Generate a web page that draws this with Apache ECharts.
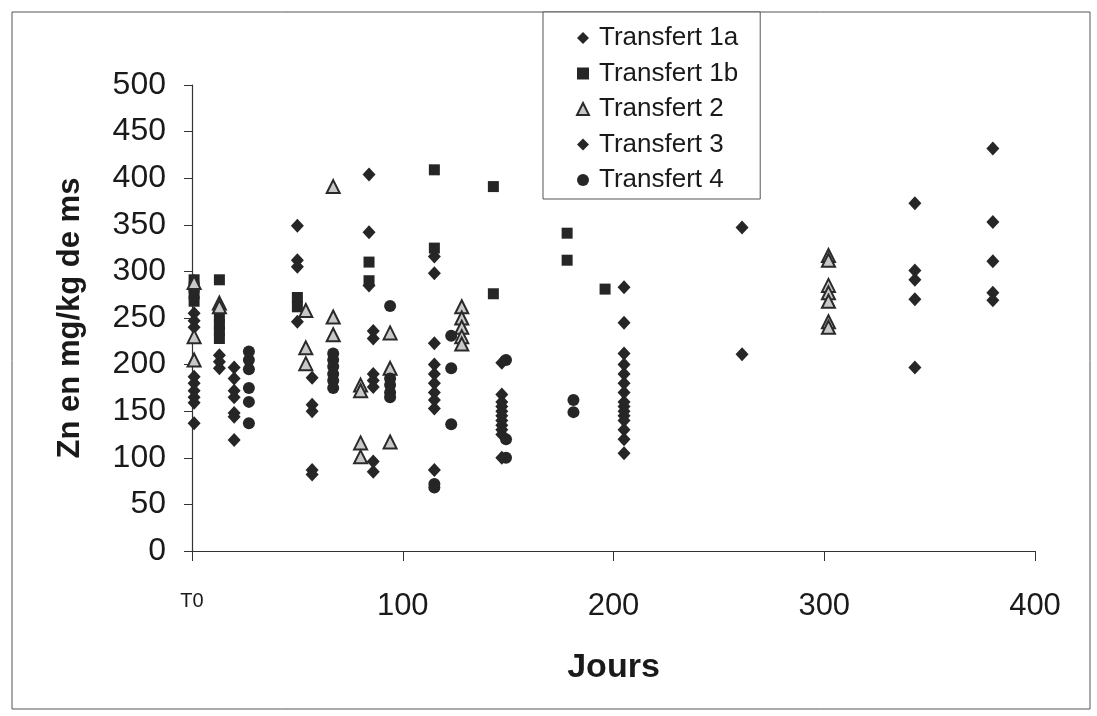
<!DOCTYPE html>
<html>
<head>
<meta charset="utf-8">
<script src="https://cdn.jsdelivr.net/npm/echarts@6/dist/echarts.min.js"></script>
<style>html,body{margin:0;padding:0;background:#fff}#c{width:1097px;height:716px}</style>
</head>
<body>
<div id="c"></div>
<script>
// Data: [jours, Zn mg/kg ms]
const transfert1a = [
  [1,255],[1,247],[1,240],[1,187],[1,180],[1,172],[1,165],[1,159],[1,137],
  [20,197],[20,185],[20,172],[20,165],[20,148],[20,144],[20,119],
  [50,349],[50,312],[50,305],[50,246],
  [84,404],[84,342],[84,285],
  [115,316],[115,298],[115,223],[115,200],[115,190],[115,180],[115,170],[115,162],[115,153],[115,87],
  [147,202],[147,168],[147,160],[147,155],[147,150],[147,145],[147,140],[147,135],[147,130],[147,125],[147,100],
  [205,283],[205,245],[205,212],[205,200],[205,190],[205,180],[205,170],[205,160],[205,155],[205,150],[205,145],[205,140],[205,130],[205,120],[205,105]
];
const transfert1b = [
  [1,291],[1,283],[1,276],[1,268],
  [13,291],[13,250],[13,243],[13,236],[13,228],
  [50,272],[50,262],
  [84,310],[84,290],
  [115,409],[115,325],
  [143,391],[143,276],
  [178,341],[178,312],
  [196,281]
];
const transfert2 = [
  [1,288],[1,230],[1,205],
  [13,266],[13,262],
  [54,258],[54,218],[54,201],
  [67,391],[67,251],[67,232],
  [80,178],[80,172],[80,116],[80,101],
  [94,234],[94,196],[94,117],
  [128,262],[128,250],[128,240],[128,230],[128,222],
  [302,317],[302,312],[302,285],[302,277],[302,268],[302,246],[302,240]
];
const transfert3 = [
  [13,210],[13,203],[13,196],
  [57,186],[57,157],[57,150],[57,87],[57,82],
  [86,236],[86,228],[86,190],[86,183],[86,176],[86,96],[86,85],
  [261,347],[261,211],
  [343,373],[343,301],[343,291],[343,270],[343,197],
  [380,432],[380,353],[380,311],[380,277],[380,269]
];
const transfert4 = [
  [27,214],[27,205],[27,195],[27,175],[27,160],[27,137],
  [67,212],[67,205],[67,198],[67,190],[67,183],[67,175],
  [94,263],[94,185],[94,178],[94,170],[94,165],
  [115,72],[115,68],
  [123,231],[123,196],[123,136],
  [149,205],[149,120],[149,100],
  [181,162],[181,149]
];
const xTickLabels = {0:'T0',100:'100',200:'200',300:'300',400:'400'};
const seriesNames = ['Transfert 1a','Transfert 1b','Transfert 2','Transfert 3','Transfert 4'];

const dark = '#262626';
const font = '"Liberation Sans", Arial, sans-serif';
const chart = echarts.init(document.getElementById('c'));
chart.setOption({
  animation: false,
  backgroundColor: '#fff',
  graphic: [{
    type: 'rect', z: -1,
    shape: {x: 12, y: 12, width: 1078, height: 697},
    style: {fill: 'none', stroke: '#555', lineWidth: 1}
  }],
  legend: {
    orient: 'vertical', left: 543, top: 12,
    padding: [13, 22, 6, 33],
    itemGap: 9.5, itemWidth: 12, itemHeight: 12,
    backgroundColor: '#fff',
    borderColor: '#555', borderWidth: 1,
    textStyle: {fontFamily: font, fontSize: 26, color: '#1a1a1a', lineHeight: 26, padding: [0,0,0,5]},
    data: seriesNames
  },
  grid: {left: 192, right: 62, top: 85, bottom: 165},
  xAxis: {
    type: 'value', min: 0, max: 400, interval: 100,
    name: 'Jours', nameLocation: 'middle', nameGap: 100,
    nameTextStyle: {fontFamily: font, fontSize: 34, fontWeight: 'bold', color: '#1a1a1a'},
    axisLine: {show: true, lineStyle: {color: '#333', width: 1.2}},
    axisTick: {show: true, inside: false, length: 10, lineStyle: {color: '#333'}},
    splitLine: {show: false},
    axisLabel: {
      margin: 40, color: '#1a1a1a', fontFamily: font, fontSize: 31,
      formatter: v => v === 0 ? '{t|' + xTickLabels[0] + '}' : xTickLabels[v],
      rich: {t: {fontFamily: font, fontSize: 20, color: '#1a1a1a', padding: [0,0,12,0]}}
    }
  },
  yAxis: {
    type: 'value', min: 0, max: 500, interval: 50,
    name: 'Zn en mg/kg de ms', nameLocation: 'middle', nameGap: 106,
    nameTextStyle: {fontFamily: font, fontSize: 31, fontWeight: 'bold', color: '#1a1a1a'},
    axisLine: {show: true, lineStyle: {color: '#333', width: 1.2}},
    axisTick: {show: true, inside: false, length: 8, lineStyle: {color: '#333'}},
    splitLine: {show: false},
    axisLabel: {margin: 26, color: '#1a1a1a', fontFamily: font, fontSize: 32}
  },
  series: [
    {name: seriesNames[0], type: 'scatter', data: transfert1a, symbol: 'diamond', symbolSize: [13, 14],
     itemStyle: {color: dark, opacity: 1}},
    {name: seriesNames[1], type: 'scatter', data: transfert1b, symbol: 'rect', symbolSize: 11,
     itemStyle: {color: dark, opacity: 1}},
    {name: seriesNames[2], type: 'scatter', data: transfert2, symbol: 'triangle', symbolSize: [13, 13],
     itemStyle: {color: '#c8c8c8', borderColor: '#2a2a2a', borderWidth: 2, opacity: 1}},
    {name: seriesNames[3], type: 'scatter', data: transfert3, symbol: 'diamond', symbolSize: [13, 14],
     itemStyle: {color: dark, opacity: 1}},
    {name: seriesNames[4], type: 'scatter', data: transfert4, symbol: 'circle', symbolSize: 12,
     itemStyle: {color: dark, opacity: 1}}
  ]
});
</script>
</body>
</html>
